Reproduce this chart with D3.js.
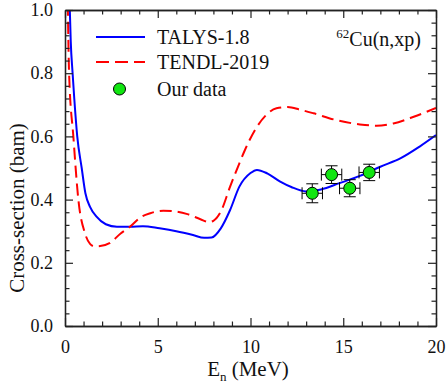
<!DOCTYPE html>
<html>
<head>
<meta charset="utf-8">
<script src="https://cdn.jsdelivr.net/npm/d3@7"></script>
<style>
  body { margin: 0; background: #fff; }
  svg text { font-family: "Liberation Serif", "DejaVu Serif", serif; }
</style>
</head>
<body>
<svg id="chart" width="446" height="385"></svg>
<script>
// TALYS-1.8 curve
const talysE = [0.25, 0.31, 0.41, 0.5, 0.66, 0.9, 1.1, 1.35, 1.7, 2.2, 2.8, 3.5, 4.2, 5.1, 6.0, 6.9, 7.5, 7.9, 8.4, 8.9, 9.4, 10.0, 10.35, 10.9, 11.6, 12.2, 13.0, 13.8, 14.8, 15.9, 17.0, 18.1, 19.1, 20];
const talysXS = [1.02, 0.9, 0.8, 0.72, 0.6, 0.5, 0.42, 0.377, 0.346, 0.322, 0.314, 0.314, 0.316, 0.309, 0.300, 0.288, 0.279, 0.280, 0.309, 0.367, 0.441, 0.484, 0.494, 0.483, 0.457, 0.440, 0.426, 0.432, 0.452, 0.475, 0.504, 0.531, 0.567, 0.604];

// TENDL-2019 curve
const tendlE = [0.15, 0.22, 0.45, 0.72, 1.08, 1.35, 1.6, 1.9, 2.4, 3.0, 3.5, 4.1, 4.6, 5.3, 5.9, 6.6, 7.3, 7.75, 8.0, 8.4, 8.9, 9.4, 9.7, 10.3, 10.8, 11.4, 12.0, 12.7, 13.4, 14.6, 15.9, 16.8, 17.7, 18.8, 20];
const tendlXS = [1.02, 0.8, 0.6, 0.4, 0.293, 0.26, 0.252, 0.253, 0.262, 0.293, 0.314, 0.345, 0.357, 0.365, 0.363, 0.354, 0.338, 0.329, 0.333, 0.362, 0.441, 0.515, 0.557, 0.626, 0.665, 0.689, 0.693, 0.684, 0.673, 0.652, 0.638, 0.634, 0.641, 0.662, 0.69];

// measured points
const ourE = [13.33, 14.37, 15.35, 16.4];
const ourXS = [0.42, 0.479, 0.436, 0.486];
const ourEErr = [0.55, 0.55, 0.55, 0.55];
const ourXSErr = [0.03, 0.028, 0.027, 0.026];

const xMajor = [0, 5, 10, 15, 20];
const yMajor = [0.0, 0.2, 0.4, 0.6, 0.8, 1.0];
const legendNames = ["TALYS-1.8", "TENDL-2019", "Our data"];

const serif = "'Liberation Serif', 'DejaVu Serif', serif";
const svg = d3.select("#chart");
const mLeft = 65, mRight = 436, mTop = 10, mBottom = 326;
const x = d3.scaleLinear().domain([0, 20]).range([mLeft, mRight]);
const y = d3.scaleLinear().domain([0, 1]).range([mBottom, mTop]);

svg.append("defs").append("clipPath").attr("id", "clip")
  .append("rect").attr("x", mLeft).attr("y", mTop)
  .attr("width", mRight - mLeft).attr("height", mBottom - mTop);

const line = d3.line().x(d => x(d[0])).y(d => y(d[1])).curve(d3.curveMonotoneX);

const plot = svg.append("g").attr("clip-path", "url(#clip)");
plot.append("path")
  .datum(talysE.map((e, i) => [e, talysXS[i]]))
  .attr("d", line).attr("fill", "none")
  .attr("stroke", "#0000ff").attr("stroke-width", 2);
plot.append("path")
  .datum(tendlE.map((e, i) => [e, tendlXS[i]]))
  .attr("d", line).attr("fill", "none")
  .attr("stroke", "#ff0000").attr("stroke-width", 2)
  .attr("stroke-dasharray", "12,6");

// error bars + markers
const pts = ourE.map((e, i) => ({e, v: ourXS[i], ex: ourEErr[i], ey: ourXSErr[i]}));
const cap = 6;
const pg = svg.append("g").selectAll("g").data(pts).enter().append("g");
pg.append("line")
  .attr("x1", d => x(d.e)).attr("x2", d => x(d.e))
  .attr("y1", d => y(d.v - d.ey)).attr("y2", d => y(d.v + d.ey))
  .attr("stroke", "#000").attr("stroke-width", 1);
pg.append("line")
  .attr("x1", d => x(d.e - d.ex)).attr("x2", d => x(d.e + d.ex))
  .attr("y1", d => y(d.v)).attr("y2", d => y(d.v))
  .attr("stroke", "#000").attr("stroke-width", 1);
[-1, 1].forEach(s => {
  pg.append("line")
    .attr("x1", d => x(d.e) - cap).attr("x2", d => x(d.e) + cap)
    .attr("y1", d => y(d.v + s * d.ey)).attr("y2", d => y(d.v + s * d.ey))
    .attr("stroke", "#000").attr("stroke-width", 1);
  pg.append("line")
    .attr("x1", d => x(d.e + s * d.ex)).attr("x2", d => x(d.e + s * d.ex))
    .attr("y1", d => y(d.v) - cap).attr("y2", d => y(d.v) + cap)
    .attr("stroke", "#000").attr("stroke-width", 1);
});
pg.append("circle")
  .attr("cx", d => x(d.e)).attr("cy", d => y(d.v)).attr("r", 6)
  .attr("fill", "#11e611").attr("stroke", "#000").attr("stroke-width", 1);

// axes, ticks inside on all four sides
const fmtY = d3.format(".1f");
svg.append("g").attr("transform", `translate(0,${mBottom})`)
  .call(d3.axisBottom(x).tickValues(xMajor).tickSizeInner(-8).tickSizeOuter(0).tickPadding(14));
svg.append("g").attr("transform", `translate(${mLeft},0)`)
  .call(d3.axisLeft(y).tickValues(yMajor).tickFormat(fmtY).tickSizeInner(-8).tickSizeOuter(0).tickPadding(12));
svg.append("g").attr("transform", `translate(0,${mTop})`)
  .call(d3.axisTop(x).tickValues(xMajor).tickSizeInner(-8).tickSizeOuter(0).tickFormat(""));
svg.append("g").attr("transform", `translate(${mRight},0)`)
  .call(d3.axisRight(y).tickValues(yMajor).tickSizeInner(-8).tickSizeOuter(0).tickFormat(""));

const xMinor = d3.range(0, 21, 1).filter(v => v % 5 !== 0);
const yMinor = d3.range(0, 26).map(i => i * 0.04).filter((v, i) => i % 5 !== 0);
svg.append("g").attr("transform", `translate(0,${mBottom})`)
  .call(d3.axisBottom(x).tickValues(xMinor).tickSizeInner(-4.5).tickSizeOuter(0).tickFormat(""));
svg.append("g").attr("transform", `translate(0,${mTop})`)
  .call(d3.axisTop(x).tickValues(xMinor).tickSizeInner(-4.5).tickSizeOuter(0).tickFormat(""));
svg.append("g").attr("transform", `translate(${mLeft},0)`)
  .call(d3.axisLeft(y).tickValues(yMinor).tickSizeInner(-4.5).tickSizeOuter(0).tickFormat(""));
svg.append("g").attr("transform", `translate(${mRight},0)`)
  .call(d3.axisRight(y).tickValues(yMinor).tickSizeInner(-4.5).tickSizeOuter(0).tickFormat(""));

svg.selectAll(".domain").attr("stroke", "#222").attr("stroke-width", 1.3);
svg.selectAll(".tick line").attr("stroke", "#222").attr("stroke-width", 1.2);
svg.selectAll(".tick text")
  .style("font-family", serif)
  .style("font-size", "18px").attr("fill", "#111");

// axis titles
const xt = svg.append("text").attr("x", 248).attr("y", 376)
  .attr("text-anchor", "middle").style("font-size", "21px").attr("fill", "#111");
xt.append("tspan").text("E");
xt.append("tspan").style("font-size", "13px").attr("dy", 5).text("n");
xt.append("tspan").attr("dy", -5).text(" (MeV)");

svg.append("text")
  .attr("transform", "translate(24,208) rotate(-90)")
  .attr("text-anchor", "middle").style("font-size", "21px").attr("fill", "#111")
  .text("Cross-section (bam)");

// reaction label
const rt = svg.append("text").attr("x", 421).attr("y", 46)
  .attr("text-anchor", "end").style("font-size", "20px").attr("fill", "#111");
rt.append("tspan").style("font-size", "13px").attr("dy", -8).text("62");
rt.append("tspan").attr("dy", 8).text("Cu(n,xp)");

// legend
const lg = svg.append("g");
const legendY = [37, 62, 89];
lg.append("line").attr("x1", 96).attr("x2", 145).attr("y1", legendY[0]).attr("y2", legendY[0])
  .attr("stroke", "#0000ff").attr("stroke-width", 2);
lg.append("line").attr("x1", 96).attr("x2", 145).attr("y1", legendY[1]).attr("y2", legendY[1])
  .attr("stroke", "#ff0000").attr("stroke-width", 2).attr("stroke-dasharray", "13,6");
lg.append("circle").attr("cx", 119.5).attr("cy", legendY[2]).attr("r", 6)
  .attr("fill", "#11e611").attr("stroke", "#000").attr("stroke-width", 1);
lg.selectAll("text").data(legendNames).enter().append("text")
  .attr("x", 157).attr("y", (d, i) => legendY[i] + 7)
  .style("font-size", "20px").attr("fill", "#111").text(d => d);

svg.selectAll("text").style("font-family", serif);
</script>
</body>
</html>
